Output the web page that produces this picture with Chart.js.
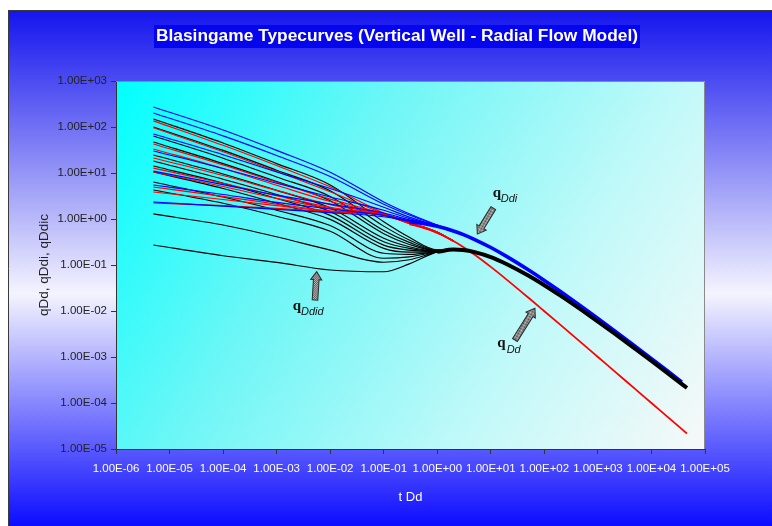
<!DOCTYPE html>
<html>
<head>
<meta charset="utf-8">
<title>Blasingame Typecurves</title>
<script src="https://cdn.jsdelivr.net/npm/chart.js@4.4.0/dist/chart.umd.min.js"></script>
<style>
  html, body { margin: 0; padding: 0; background: #fff; }
  #wrap { width: 772px; height: 526px; }
  canvas { display: block; }
</style>
</head>
<body>
<div id="wrap"><canvas id="c" width="772" height="526"></canvas></div>
<script>
// Early-time stems: dimensionless decline time tDd and the three rate functions
const stemTimes = [5e-6, 1e-4, 1e-3, 1e-2, 0.1, 0.3, 1, 2];

// rate integral qDdi, one stem per reD
const qDdiStems = [
  [272, 86, 31, 10.4, 2.35, 1.3, 0.74, 0.549],
  [201, 64, 24, 8.4, 2.1, 1.22, 0.73, 0.549],
  [70.5, 25, 10.5, 4.6, 1.8, 1.1, 0.715, 0.549],
  [30.1, 12.5, 6.0, 3.0, 1.55, 1.02, 0.705, 0.549],
  [11.0, 5.6, 3.3, 2.1, 1.35, 0.96, 0.70, 0.549],
  [5.48, 3.4, 2.3, 1.65, 1.2, 0.92, 0.695, 0.549],
  [2.34, 1.9, 1.62, 1.38, 1.12, 0.89, 0.693, 0.549]
];

// rate qDd
const qDdStems = [
  [136, 40, 14.5, 5.0, 1.35, 0.85, 0.52, 0.333],
  [96, 29, 10.8, 3.9, 1.32, 0.84, 0.52, 0.333],
  [42.7, 15, 6.3, 2.7, 1.3, 0.83, 0.515, 0.333],
  [33.3, 12.5, 5.4, 2.4, 1.28, 0.83, 0.515, 0.333],
  [21.2, 8.8, 4.2, 2.05, 1.26, 0.82, 0.51, 0.333],
  [12.8, 6.0, 3.2, 1.8, 1.24, 0.82, 0.51, 0.333],
  [10.5, 5.1, 2.8, 1.7, 1.23, 0.81, 0.51, 0.333],
  [4.96, 3.1, 2.1, 1.5, 1.21, 0.81, 0.505, 0.333],
  [3.86, 2.65, 1.95, 1.45, 1.2, 0.8, 0.505, 0.333],
  [2.23, 1.95, 1.7, 1.45, 1.22, 0.8, 0.5, 0.333]
];

// rate integral-derivative qDdid
const qDdidStems = [
  [149, 45, 16, 5.5, 0.87, 0.40, 0.215, 0.216],
  [100, 31, 11.5, 4.1, 0.70, 0.35, 0.21, 0.216],
  [63.7, 21, 8.2, 3.1, 0.56, 0.31, 0.207, 0.216],
  [47.2, 16, 6.5, 2.5, 0.48, 0.28, 0.204, 0.216],
  [24.6, 9.5, 4.2, 1.75, 0.38, 0.25, 0.201, 0.216],
  [18.2, 7.3, 3.4, 1.45, 0.32, 0.23, 0.199, 0.216],
  [14.2, 6.0, 2.8, 1.2, 0.27, 0.21, 0.197, 0.216],
  [10.5, 4.6, 2.2, 0.98, 0.23, 0.19, 0.196, 0.216],
  [6.37, 3.0, 1.55, 0.72, 0.18, 0.17, 0.195, 0.216],
  [4.27, 2.2, 1.15, 0.54, 0.14, 0.15, 0.194, 0.216],
  [1.29, 0.74, 0.41, 0.21, 0.115, 0.13, 0.193, 0.216],
  [0.272, 0.159, 0.114, 0.078, 0.0715, 0.106, 0.193, 0.216]
];

// Boundary-dominated (late time) decline shared by all stems
const lateTimes = [0.3, 0.5, 1, 2, 3, 5, 10, 20, 50, 100, 200, 500, 1000, 2000, 5000, 10000, 20000, 37000, 46000];
const qDdLate   = [0.769, 0.667, 0.5, 0.333, 0.25, 0.167, 0.0909, 0.0476, 0.0196, 0.0099, 0.00498, 0.002, 0.001, 0.0005, 0.0002, 0.0001, 0.00005, 0.000027, 0.0000217];
const qDdiLate  = [0.875, 0.811, 0.693, 0.549, 0.462, 0.358, 0.240, 0.152, 0.0786, 0.0462, 0.0265, 0.0124, 0.00691, 0.0038, 0.0017, 0.000921, 0.000495, 0.000284, null];
const qDdidLate = [null, null, 0.193, 0.216, 0.212, 0.191, 0.149, 0.104, 0.059, 0.0363, 0.0215, 0.0104, 0.0059, 0.0033, 0.0015, 0.00082, 0.000445, 0.000257, 0.000212];

// Axis ticks
const xTickValues = [1e-6, 1e-5, 1e-4, 1e-3, 1e-2, 1e-1, 1, 1e1, 1e2, 1e3, 1e4, 1e5];
const xTickLabels = ['1.00E-06', '1.00E-05', '1.00E-04', '1.00E-03', '1.00E-02', '1.00E-01',
                     '1.00E+00', '1.00E+01', '1.00E+02', '1.00E+03', '1.00E+04', '1.00E+05'];
const yTickValues = [1e-5, 1e-4, 1e-3, 1e-2, 1e-1, 1, 1e1, 1e2, 1e3];
const yTickLabels = ['1.00E-05', '1.00E-04', '1.00E-03', '1.00E-02', '1.00E-01',
                     '1.00E+00', '1.00E+01', '1.00E+02', '1.00E+03'];

// Callout labels: arrow tip in data units, other parts as pixel offsets from the tip
const callouts = [
  { sub: 'Ddi',  tip: [5.6, 0.47],      tail: [16, -26],    q: [15.4, -37],   s: [23.4, -32] },
  { sub: 'Ddid', tip: [5.6e-3, 0.0714], tail: [-1.7, 28.3], q: [-24, 38],     s: [-15.7, 43.5] },
  { sub: 'Dd',   tip: [66.7, 0.01146],  tail: [-20, 31.7],  q: [-37.7, 38.7], s: [-28.3, 45] }
];

const SANS = '"Liberation Sans", Arial, Helvetica, sans-serif';
Chart.defaults.font.family = SANS;

const toPoints = (times, vals) =>
  times.map((t, i) => ({ x: t, y: vals[i] })).filter(p => p.y !== null);

const stem = (vals, color, label) => ({
  label, data: toPoints(stemTimes, vals), borderColor: color, borderWidth: 1.15,
  pointRadius: 0, fill: false, cubicInterpolationMode: 'monotone'
});

// first dataset is painted last (on top)
const datasets = [
  { label: 'qDdid', data: toPoints(lateTimes, qDdidLate), borderColor: '#000000', borderWidth: 4,
    pointRadius: 0, fill: false, cubicInterpolationMode: 'monotone' },
  { label: 'qDdi', data: toPoints(lateTimes, qDdiLate), borderColor: '#0000ff', borderWidth: 3.6,
    pointRadius: 0, fill: false, cubicInterpolationMode: 'monotone' },
  { label: 'qDd', data: toPoints(lateTimes, qDdLate), borderColor: '#ff0000', borderWidth: 1.8,
    pointRadius: 0, fill: false, cubicInterpolationMode: 'monotone' },
  ...qDdiStems.map((v, i) => stem(v, '#0000ff', 'qDdi ' + (i + 1))),
  ...qDdStems.map((v, i) => stem(v, '#ff0000', 'qDd ' + (i + 1))),
  ...qDdidStems.map((v, i) => stem(v, '#000000', 'qDdid ' + (i + 1)))
];

// Panel and plot-area fills
const backdrop = {
  id: 'backdrop',
  beforeDraw(chart) {
    const { ctx, chartArea: a, width, height } = chart;
    ctx.save();
    ctx.fillStyle = '#ffffff';
    ctx.fillRect(0, 0, width, height);
    const g = ctx.createLinearGradient(0, 10, 0, height);
    g.addColorStop(0, '#1414ee');
    g.addColorStop(0.55, '#f4f4fe');
    g.addColorStop(1, '#0c0cff');
    ctx.fillStyle = g;
    ctx.fillRect(8, 10, width - 8, height - 10);
    ctx.strokeStyle = '#3a3a3a';
    ctx.lineWidth = 1;
    ctx.beginPath();
    ctx.moveTo(8.5, height); ctx.lineTo(8.5, 10.5); ctx.lineTo(width, 10.5);
    ctx.stroke();

    const p = ctx.createLinearGradient(a.left, a.top, a.right, a.bottom);
    p.addColorStop(0, '#00ffff');
    p.addColorStop(0.35, '#6ff6f6');
    p.addColorStop(0.7, '#c2f9f9');
    p.addColorStop(1, '#f8f8f8');
    ctx.fillStyle = p;
    ctx.fillRect(a.left, a.top, a.right - a.left, a.bottom - a.top);
    ctx.restore();
  }
};

function hatch(ctx) {
  const c = document.createElement('canvas');
  c.width = 2; c.height = 2;
  const k = c.getContext('2d');
  k.fillStyle = '#c8c8c8'; k.fillRect(0, 0, 2, 2);
  k.fillStyle = '#4a4a4a'; k.fillRect(0, 0, 1, 1); k.fillRect(1, 1, 1, 1);
  return ctx.createPattern(c, 'repeat');
}

function blockArrow(ctx, x0, y0, x1, y1, fill) {
  const dx = x1 - x0, dy = y1 - y0;
  const len = Math.hypot(dx, dy);
  const ang = Math.atan2(dy, dx);
  const head = 8, hw = 5.5, sw = 2.8;
  ctx.save();
  ctx.translate(x0, y0);
  ctx.rotate(ang);
  ctx.beginPath();
  ctx.moveTo(0, -sw);
  ctx.lineTo(len - head, -sw);
  ctx.lineTo(len - head, -hw);
  ctx.lineTo(len, 0);
  ctx.lineTo(len - head, hw);
  ctx.lineTo(len - head, sw);
  ctx.lineTo(0, sw);
  ctx.closePath();
  ctx.fillStyle = fill;
  ctx.fill();
  ctx.strokeStyle = '#2a2a2a';
  ctx.lineWidth = 1;
  ctx.stroke();
  ctx.restore();
}

const decorations = {
  id: 'decorations',
  afterDatasetsDraw(chart) {
    const { ctx, scales: { x, y } } = chart;
    const fill = hatch(ctx);
    ctx.save();
    callouts.forEach(c => {
      const tx = x.getPixelForValue(c.tip[0]);
      const ty = y.getPixelForValue(c.tip[1]);
      blockArrow(ctx, tx + c.tail[0], ty + c.tail[1], tx, ty, fill);
      ctx.fillStyle = '#111';
      ctx.textAlign = 'left';
      ctx.textBaseline = 'alphabetic';
      ctx.font = 'bold 15px "Liberation Serif", "Times New Roman", serif';
      ctx.fillText('q', tx + c.q[0], ty + c.q[1]);
      ctx.font = 'italic 11px ' + SANS;
      ctx.fillText(c.sub, tx + c.s[0], ty + c.s[1]);
    });
    ctx.restore();
  },
  afterDraw(chart) {
    const { ctx, chartArea: a } = chart;
    ctx.save();
    // plot frame, top and right edges
    ctx.strokeStyle = '#8a8a8a';
    ctx.lineWidth = 1;
    ctx.beginPath();
    ctx.moveTo(a.left, a.top + 0.5); ctx.lineTo(a.right - 0.5, a.top + 0.5); ctx.lineTo(a.right - 0.5, a.bottom);
    ctx.stroke();

    // chart title on its band
    ctx.fillStyle = '#0505ee';
    ctx.fillRect(154, 25, 486, 23);
    ctx.font = 'bold 16px ' + SANS;
    const title = 'Blasingame Typecurves (Vertical Well - Radial Flow Model)';
    const w = ctx.measureText(title).width;
    ctx.translate(397, 37);
    ctx.scale(482 / w, 1);
    ctx.fillStyle = '#ffffff';
    ctx.textAlign = 'center';
    ctx.textBaseline = 'middle';
    ctx.fillText(title, 0, 0);
    ctx.restore();

    // axis titles
    ctx.save();
    ctx.font = '13px ' + SANS;
    ctx.textAlign = 'center';
    ctx.textBaseline = 'middle';
    ctx.fillStyle = '#ffffff';
    ctx.fillText('t Dd', (a.left + a.right) / 2, 497);
    ctx.translate(44, (a.top + a.bottom) / 2);
    ctx.rotate(-Math.PI / 2);
    ctx.fillStyle = '#222222';
    ctx.font = '13.5px ' + SANS;
    ctx.fillText('qDd, qDdi, qDdic', 0, 0);
    ctx.restore();
  }
};

new Chart(document.getElementById('c'), {
  type: 'line',
  data: { datasets },
  plugins: [backdrop, decorations],
  options: {
    responsive: false,
    animation: false,
    layout: { padding: { left: 0, top: 81, right: 67, bottom: 0 } },
    plugins: { legend: { display: false }, tooltip: { enabled: false }, title: { display: false } },
    scales: {
      x: {
        type: 'logarithmic', min: 1e-6, max: 1e5,
        afterBuildTicks: s => { s.ticks = xTickValues.map(v => ({ value: v })); },
        afterFit: s => { s.height = 77; },
        ticks: {
          autoSkip: false, maxRotation: 0, minRotation: 0, padding: 8,
          color: '#ffffff', font: { size: 11.5 },
          callback: (v, i) => xTickLabels[i]
        },
        grid: { drawOnChartArea: false, drawTicks: true, tickLength: 5, color: '#333333' },
        border: { display: true, color: '#333333', width: 1 }
      },
      y: {
        type: 'logarithmic', min: 1e-5, max: 1e3,
        afterBuildTicks: s => { s.ticks = yTickValues.map(v => ({ value: v })); },
        afterFit: s => { s.width = 116; },
        ticks: {
          autoSkip: false, padding: 4,
          color: '#222222', font: { size: 11.5 },
          callback: (v, i) => yTickLabels[i]
        },
        grid: { drawOnChartArea: false, drawTicks: true, tickLength: 5, color: '#333333' },
        border: { display: true, color: '#333333', width: 1 }
      }
    }
  }
});
</script>
</body>
</html>
